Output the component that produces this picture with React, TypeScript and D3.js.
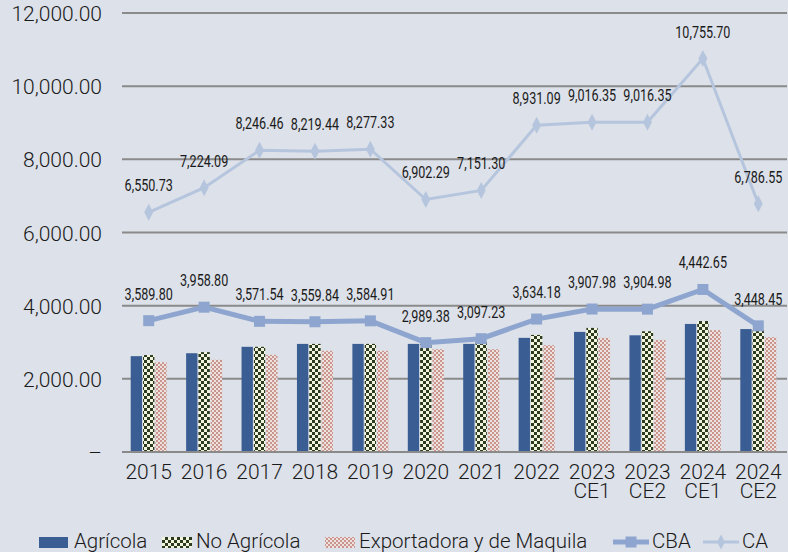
import React from "react";
import * as d3 from "d3";

const categories = ["2015", "2016", "2017", "2018", "2019", "2020", "2021", "2022", "2023 CE1", "2023 CE2", "2024 CE1", "2024 CE2"];
const agricola = [2620, 2700, 2875, 2955, 2955, 2955, 2955, 3120, 3283, 3190, 3500, 3360];
const noAgricola = [2650, 2730, 2875, 2955, 2955, 2955, 3050, 3200, 3392, 3300, 3580, 3420];
const exportadora = [2455, 2520, 2655, 2765, 2765, 2810, 2810, 2920, 3120, 3065, 3330, 3140];
const cba = [3589.8, 3958.8, 3571.54, 3559.84, 3584.91, 2989.38, 3097.23, 3634.18, 3907.98, 3904.98, 4442.65, 3448.45];
const ca = [6550.73, 7224.09, 8246.46, 8219.44, 8277.33, 6902.29, 7151.3, 8931.09, 9016.35, 9016.35, 10755.7, 6786.55];
const yTicks = [0, 2000, 4000, 6000, 8000, 10000, 12000];
const barSeries = ["Agrícola", "No Agrícola", "Exportadora y de Maquila"];

const W = 788;
const H = 552;
const BG = "#dde1e9";
const AGR = "#3a5e93";
const CBA_C = "#8ea6cf";
const CA_C = "#b6c5de";
const FONT = "Roboto, 'Liberation Sans', Arial, sans-serif";
const LABEL_FONT = "Roboto, 'Liberation Sans', Arial, sans-serif";

function labelLen(s: string) {
  let w = 0;
  for (const ch of s) w += /[0-9]/.test(ch) ? 6.9 : 3.4;
  return w;
}

export default function App() {
  const x = d3.scaleBand<string>().domain(categories).range([122, 787]).paddingInner(0).paddingOuter(0);
  const y = d3.scaleLinear().domain([0, 12000]).range([452, 13]);
  const inner = d3.scaleBand<string>().domain(barSeries).range([-18, 18]).paddingInner(0.08);
  const cx = (c: string) => (x(c) as number) + x.bandwidth() / 2 - 1;
  const fmt = d3.format(",.2f");
  const seriesData = [agricola, noAgricola, exportadora];
  const fills = [AGR, "url(#checkDark)", "url(#checkPink)"];

  const lineGen = d3
    .line<number>()
    .x((_, i) => cx(categories[i]))
    .y((d) => y(d));

  const diamond = (px: number, py: number, w = 9, h = 17) =>
    `M${px},${py - h / 2}L${px + w / 2},${py}L${px},${py + h / 2}L${px - w / 2},${py}Z`;

  const valueLabel = (key: string, v: number, i: number) => {
    const s = fmt(v);
    const len = labelLen(s);
    const lx = Math.min(cx(categories[i]), 785 - len / 2);
    return (
      <text
        key={key}
        x={lx}
        y={y(v) - 21}
        textAnchor="middle"
        fontFamily={LABEL_FONT}
        fontSize={16}
        fill="#1a1a1a"
        textLength={len}
        lengthAdjust="spacingAndGlyphs"
      >
        {s}
      </text>
    );
  };

  return (
    <svg width={W} height={H} style={{ position: "absolute", left: 0, top: 0, background: BG }}>
      <defs>
        <pattern id="checkDark" width="6" height="6" patternUnits="userSpaceOnUse">
          <rect width="6" height="6" fill="#f2f4de" />
          <rect width="3" height="3" fill="#2c3a1e" />
          <rect x="3" y="3" width="3" height="3" fill="#2c3a1e" />
        </pattern>
        <pattern id="checkPink" width="4" height="4" patternUnits="userSpaceOnUse">
          <rect width="4" height="4" fill="#eee2e0" />
          <rect width="2" height="2" fill="#c9958c" />
          <rect x="2" y="2" width="2" height="2" fill="#c9958c" />
        </pattern>
      </defs>
      <rect width={W} height={H} fill={BG} />

      {/* gridlines */}
      {yTicks.map((t) => (
        <g key={t}>
          <line x1={122} x2={787} y1={y(t)} y2={y(t)} stroke="#8a8a8a" strokeWidth={2} />
          <text x={102} y={y(t) + 8} textAnchor="end" fontFamily={FONT} fontWeight={300} fontSize={21} fill="#1a1a1a">
            {t === 0 ? "–" : fmt(t)}
          </text>
        </g>
      ))}

      {/* bars */}
      {seriesData.map((arr, si) =>
        arr.map((v, i) => {
          const c = categories[i];
          const bx = cx(c) + (inner(barSeries[si]) as number);
          return (
            <rect
              key={`${si}-${i}`}
              x={bx}
              y={y(v)}
              width={inner.bandwidth()}
              height={y(0) - y(v)}
              fill={fills[si]}
            />
          );
        })
      )}
      <line x1={122} x2={787} y1={y(0)} y2={y(0)} stroke="#8a8a8a" strokeWidth={2} />

      {/* CA line */}
      <path d={lineGen(ca) || ""} fill="none" stroke={CA_C} strokeWidth={3} />
      {ca.map((v, i) => (
        <path key={`cad${i}`} d={diamond(cx(categories[i]), y(v))} fill={CA_C} />
      ))}

      {/* CBA line */}
      <path d={lineGen(cba) || ""} fill="none" stroke={CBA_C} strokeWidth={5} />
      {cba.map((v, i) => (
        <rect key={`cbs${i}`} x={cx(categories[i]) - 5.5} y={y(v) - 5.5} width={11} height={11} fill={CBA_C} />
      ))}

      {/* labels */}
      {ca.map((v, i) => valueLabel(`cal${i}`, v, i))}
      {cba.map((v, i) => valueLabel(`cbl${i}`, v, i))}

      {/* x labels */}
      {categories.map((c) => {
        const parts = c.split(" ");
        return (
          <text key={c} textAnchor="middle" fontFamily={FONT} fontWeight={300} fontSize={21} fill="#1a1a1a">
            {parts.map((p, k) => (
              <tspan key={k} x={cx(c)} y={479 + k * 19}>
                {p}
              </tspan>
            ))}
          </text>
        );
      })}

      {/* legend */}
      <g fontFamily={FONT} fontWeight={300} fontSize={20.5} fill="#1a1a1a">
        <rect x={39} y={537} width={29} height={11} fill={AGR} />
        <text x={74} y={548}>Agrícola</text>
        <rect x={162} y={537} width={30} height={11} fill="url(#checkDark)" />
        <text x={196} y={548}>No Agrícola</text>
        <rect x={325} y={537} width={30} height={11} fill="url(#checkPink)" />
        <text x={359} y={548}>Exportadora y de Maquila</text>
        <line x1={613} x2={649} y1={542} y2={542} stroke={CBA_C} strokeWidth={5} />
        <rect x={625.5} y={536.5} width={11} height={11} fill={CBA_C} />
        <text x={652} y={548}>CBA</text>
        <line x1={703} x2={739} y1={542} y2={542} stroke={CA_C} strokeWidth={3} />
        <path d={diamond(721, 542, 8, 15)} fill={CA_C} />
        <text x={742} y={548}>CA</text>
      </g>
    </svg>
  );
}
